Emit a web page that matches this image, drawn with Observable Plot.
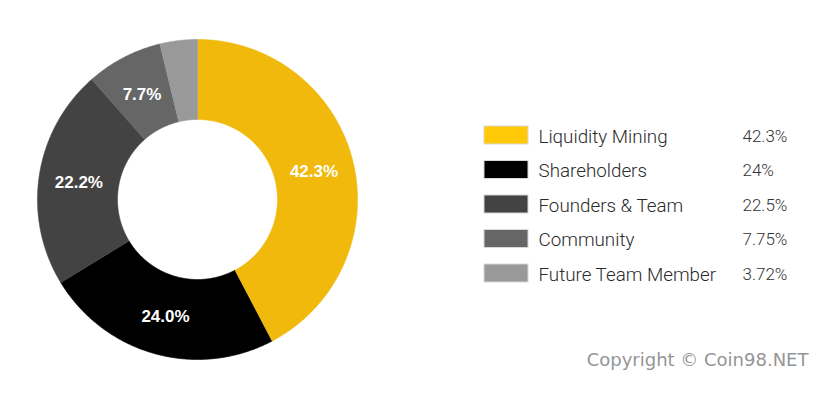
<!DOCTYPE html>
<html><head><meta charset="utf-8">
<script src="https://cdn.jsdelivr.net/npm/d3@7"></script>
<script src="https://cdn.jsdelivr.net/npm/@observablehq/plot@0.6"></script>
<style>body{margin:0;background:#fff;}</style>
</head><body><div id="chart"></div>
<script>
const categories = ["Liquidity Mining", "Shareholders", "Founders & Team", "Community", "Future Team Member"];
const sliceValues = [42.3, 24.0, 22.2, 7.7, 3.8];
const sliceLabels = ["42.3%", "24.0%", "22.2%", "7.7%", ""];
const legendValues = ["42.3%", "24%", "22.5%", "7.75%", "3.72%"];
const sliceColors = ["#F0B90B", "#000000", "#434343", "#666666", "#999999"];
const swatchColors = ["#FFC907", "#000000", "#434343", "#666666", "#999999"];
const copyright = "Copyright © Coin98.NET";

// layout
const cx = 197, cy = 199, rOuter = 160, rInner = 80, rLabel = 120;
const total = d3.sum(sliceValues);
let acc = 0;
const slices = sliceValues.map((v, i) => {
  const a0 = acc / total * 2 * Math.PI; acc += v;
  const a1 = acc / total * 2 * Math.PI;
  return {i, a0, a1, mid: (a0 + a1) / 2, label: sliceLabels[i], name: categories[i]};
});
function ring(s) {
  const n = Math.max(2, Math.ceil((s.a1 - s.a0) / (Math.PI / 360)));
  const pts = [];
  for (let k = 0; k <= n; k++) { const a = s.a0 + (s.a1 - s.a0) * k / n; pts.push({x: cx + rOuter * Math.sin(a), y: cy - rOuter * Math.cos(a)}); }
  for (let k = n; k >= 0; k--) { const a = s.a0 + (s.a1 - s.a0) * k / n; pts.push({x: cx + rInner * Math.sin(a), y: cy - rInner * Math.cos(a)}); }
  return pts;
}
const rowY0 = 135, rowStep = 34.5;
const legend = categories.map((c, i) => ({name: c, value: legendValues[i], y: rowY0 + i * rowStep, color: swatchColors[i]}));

const marks = [];
slices.forEach(s => {
  marks.push(Plot.line(ring(s), {x: "x", y: "y", fill: sliceColors[s.i], stroke: sliceColors[s.i], strokeWidth: 0.6, curve: "linear"}));
});
marks.push(Plot.text(slices.filter(s => s.label), {
  x: s => cx + rLabel * Math.sin(s.mid), y: s => cy - rLabel * Math.cos(s.mid) + 1, text: "label",
  fill: "white", fontWeight: "bold", fontSize: 17, fontFamily: "Liberation Sans, Arial, sans-serif"
}));
marks.push(Plot.rect(legend, {x1: 484, x2: 528, y1: d => d.y - 9, y2: d => d.y + 9, fill: "color", stroke: "#d8d8d8", strokeWidth: 1}));
marks.push(Plot.text(legend, {x: 538, y: d => d.y + 1, text: "name", textAnchor: "start", fontSize: 18.8, fontWeight: 300, fill: "#2a2a2a", fontFamily: "Roboto, sans-serif"}));
marks.push(Plot.text(legend, {x: 742, y: d => d.y + 1, text: "value", textAnchor: "start", fontSize: 17, fontWeight: 300, fill: "#333", fontFamily: "Roboto, sans-serif"}));
marks.push(Plot.text([copyright], {x: 808, y: 360, text: d => d, textAnchor: "end", fontSize: 18, fontWeight: 400, fill: "#959595", fontFamily: "DejaVu Sans, sans-serif"}));

const chart = Plot.plot({
  width: 832, height: 396, margin: 0,
  x: {domain: [0, 832], range: [0, 832], axis: null},
  y: {domain: [0, 396], range: [0, 396], axis: null},
  style: {background: "#fff"},
  marks
});
document.getElementById("chart").append(chart);
</script>
</body></html>
